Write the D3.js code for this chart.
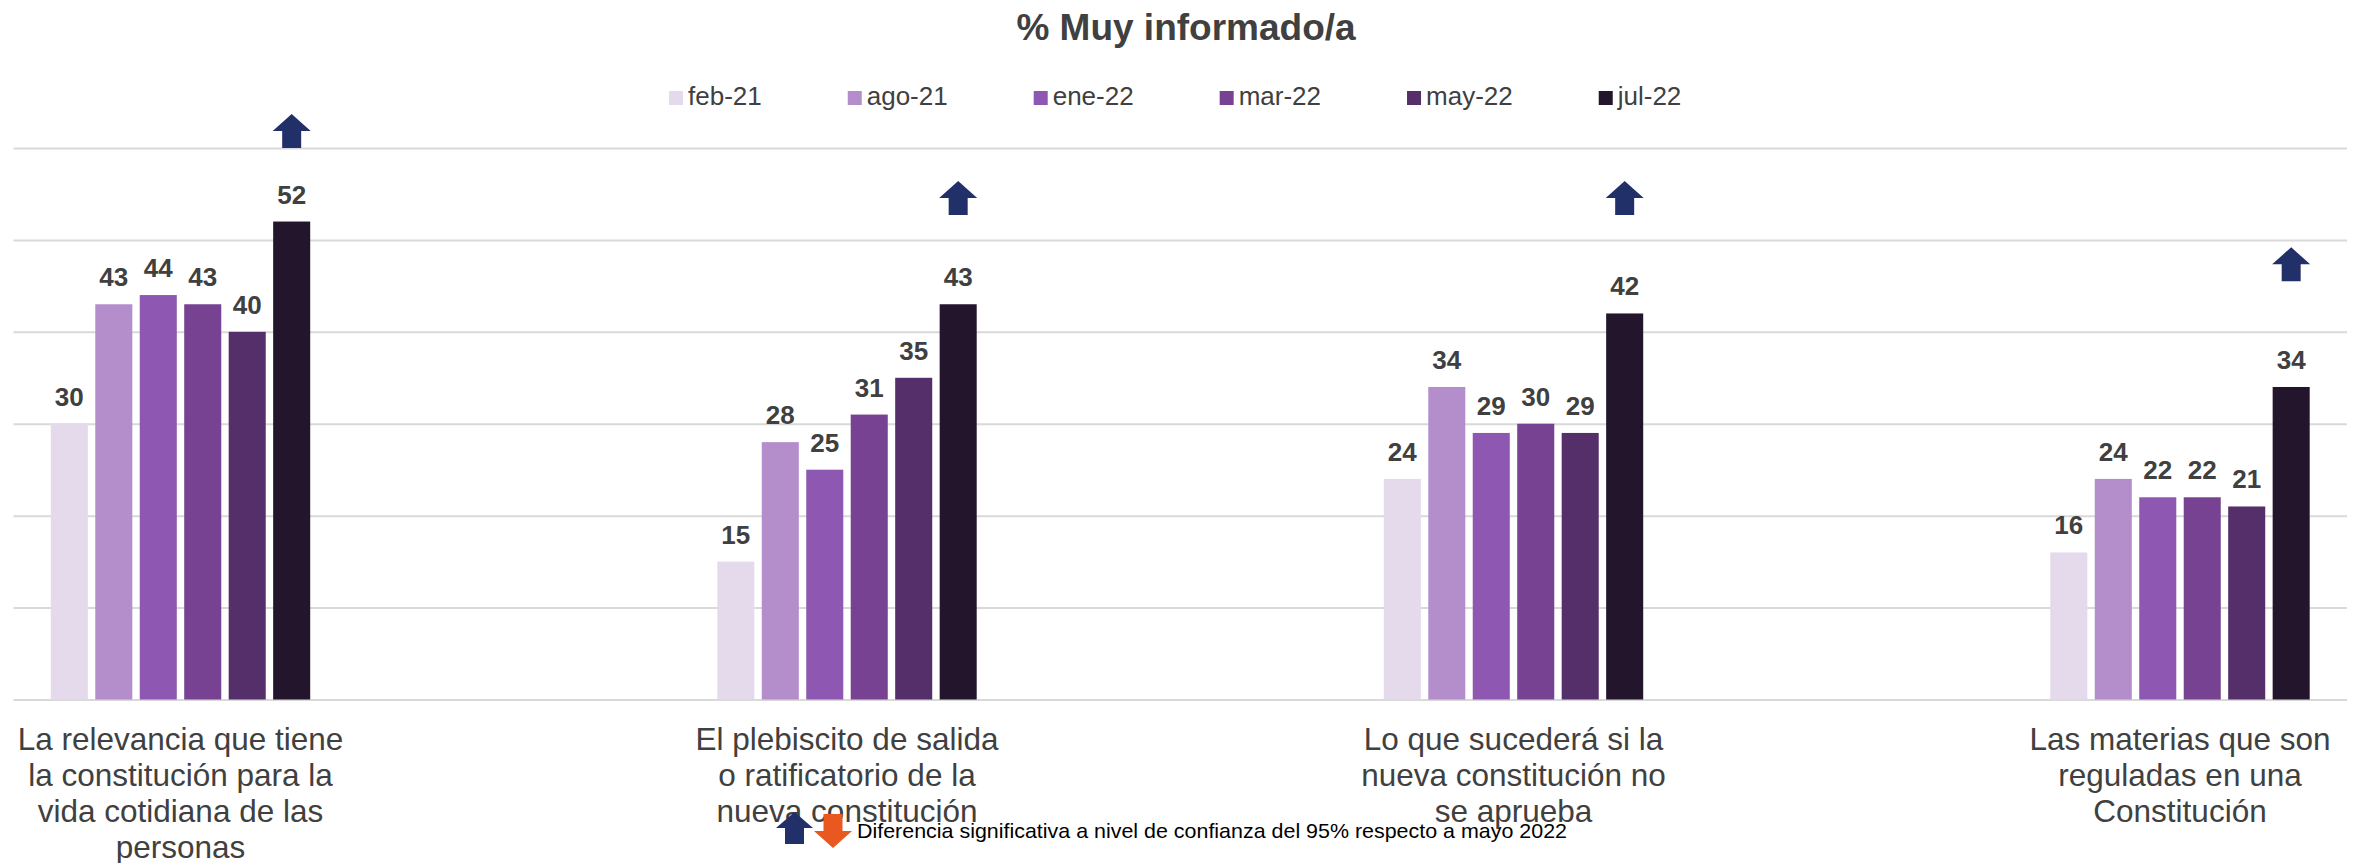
<!DOCTYPE html>
<html>
<head>
<meta charset="utf-8">
<script src="https://cdn.jsdelivr.net/npm/d3@7"></script>
<style>
  html, body { margin: 0; padding: 0; background: #ffffff; }
  svg { display: block; font-family: "Liberation Sans", Arial, sans-serif; }
</style>
</head>
<body>
<svg id="chart" width="2359" height="863"></svg>
<script>
// ---- Data ----
const title = "% Muy informado/a";
const categories = [
  "La relevancia que tiene\nla constitución para la\nvida cotidiana de las\npersonas",
  "El plebiscito de salida\no ratificatorio de la\nnueva constitución",
  "Lo que sucederá si la\nnueva constitución no\nse aprueba",
  "Las materias que son\nreguladas en una\nConstitución"
];
const seriesNames = ["feb-21", "ago-21", "ene-22", "mar-22", "may-22", "jul-22"];
const feb21 = [30, 15, 24, 16];
const ago21 = [43, 28, 34, 24];
const ene22 = [44, 25, 29, 22];
const mar22 = [43, 31, 30, 22];
const may22 = [40, 35, 29, 21];
const jul22 = [52, 43, 42, 34];
const seriesValues = [feb21, ago21, ene22, mar22, may22, jul22];
const seriesColors = ["#E4DAEC", "#B48ECB", "#8E57B1", "#764291", "#542F6A", "#23152C"];
const gridTicks = [0, 10, 20, 30, 40, 50, 60];
// significance (jul-22 vs may-22): 1 = up, and the level (in chart units) where the arrow sits
const significance = [1, 1, 1, 1];
const arrowLevel = [60, 52.7, 52.7, 45.5];
const noteText = "Diferencia significativa a nivel de confianza del 95% respecto a mayo 2022";

// ---- Layout ----
const W = 2359, H = 863;
const svg = d3.select("#chart");
svg.append("rect").attr("width", W).attr("height", H).attr("fill", "#fff");

const plotLeft = 13.5, plotRight = 2347;
const y = d3.scaleLinear().domain([0, 60]).range([699.5, 148]);
const x0 = d3.scalePoint().domain(categories).range([180.5, 2180]);
const x1 = d3.scaleBand().domain(seriesNames).range([-129.7, 129.7]).paddingInner(0.167);

const textGray = "#404040";

// Gridlines
const gridAxis = d3.axisLeft(y).tickValues(gridTicks).tickSize(-(plotRight - plotLeft)).tickFormat("");
const gg = svg.append("g").attr("transform", `translate(${plotLeft},0)`).call(gridAxis);
gg.select(".domain").remove();
gg.selectAll(".tick line").attr("stroke", "#D9D9D9").attr("stroke-width", 2);

// Bars
const rows = [];
categories.forEach((c, ci) => {
  seriesNames.forEach((s, si) => rows.push({ cat: c, ci, s, si, v: seriesValues[si][ci] }));
});

svg.append("g").selectAll("rect").data(rows).join("rect")
  .attr("x", d => x0(d.cat) + x1(d.s))
  .attr("y", d => y(d.v))
  .attr("width", x1.bandwidth())
  .attr("height", d => y(0) - y(d.v))
  .attr("fill", d => seriesColors[d.si]);

// Value labels
svg.append("g").selectAll("text").data(rows).join("text")
  .attr("x", d => x0(d.cat) + x1(d.s) + x1.bandwidth() / 2)
  .attr("y", d => y(d.v) - 18)
  .attr("text-anchor", "middle")
  .attr("font-size", 26)
  .attr("font-weight", "bold")
  .attr("fill", textGray)
  .text(d => d.v);

// Category labels
const catG = svg.append("g");
categories.forEach(c => {
  const lines = c.split("\n");
  const t = catG.append("text")
    .attr("text-anchor", "middle")
    .attr("font-size", 31.5)
    .attr("fill", textGray);
  lines.forEach((ln, i) => {
    t.append("tspan").attr("x", x0(c)).attr("y", 750 + i * 36).text(ln);
  });
});

// Arrow shape
function arrowPath(cx, bottom, up, w = 38, h = 34, head = 17, shaft = 19) {
  const top = bottom - h;
  if (up) {
    return `M${cx},${top} L${cx + w / 2},${top + head} L${cx + shaft / 2},${top + head} L${cx + shaft / 2},${bottom} L${cx - shaft / 2},${bottom} L${cx - shaft / 2},${top + head} L${cx - w / 2},${top + head} Z`;
  }
  return `M${cx},${bottom} L${cx + w / 2},${bottom - head} L${cx + shaft / 2},${bottom - head} L${cx + shaft / 2},${top} L${cx - shaft / 2},${top} L${cx - shaft / 2},${bottom - head} L${cx - w / 2},${bottom - head} Z`;
}

// Significance arrows over jul-22 bars
const lastSeries = seriesNames[seriesNames.length - 1];
svg.append("g").selectAll("path").data(categories.filter((c, i) => significance[i] !== 0)).join("path")
  .attr("d", c => {
    const i = categories.indexOf(c);
    const cx = x0(c) + x1(lastSeries) + x1.bandwidth() / 2;
    return arrowPath(cx, y(arrowLevel[i]), significance[i] > 0);
  })
  .attr("fill", "#22306A");

// Title
svg.append("text")
  .attr("x", 1186).attr("y", 40)
  .attr("text-anchor", "middle")
  .attr("font-size", 37)
  .attr("font-weight", "bold")
  .attr("fill", textGray)
  .text(title);

// Legend
const leg = svg.append("g");
let lx = 669;
seriesNames.forEach((s, i) => {
  leg.append("rect").attr("x", lx).attr("y", 91).attr("width", 14).attr("height", 14).attr("fill", seriesColors[i]);
  const t = leg.append("text").attr("x", lx + 19).attr("y", 105)
    .attr("font-size", 26).attr("fill", textGray).text(s);
  lx = lx + 19 + t.node().getComputedTextLength() + 86;
});

// Bottom note
svg.append("path").attr("d", arrowPath(794.5, 844, true, 37, 32, 16, 19)).attr("fill", "#22306A");
svg.append("path").attr("d", arrowPath(833, 848, false, 38, 34, 17, 19)).attr("fill", "#E8581F");
svg.append("text").attr("x", 857).attr("y", 838)
  .attr("font-size", 21).attr("fill", "#000")
  .attr("textLength", 710).attr("lengthAdjust", "spacingAndGlyphs")
  .text(noteText);
</script>
</body>
</html>
